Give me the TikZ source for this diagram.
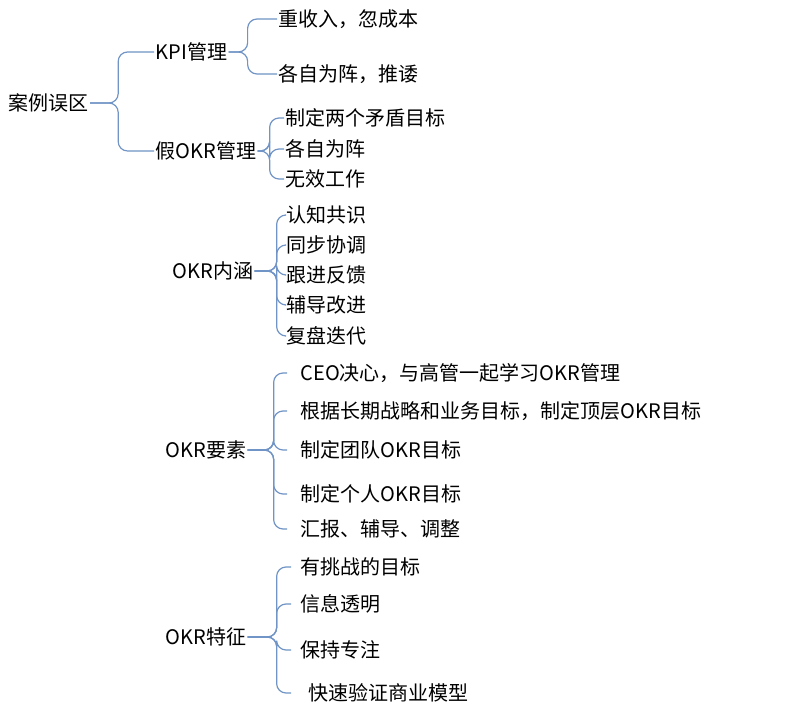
\documentclass[tikz,border=0pt]{standalone}
\usepackage{fontspec}
\setmainfont{Noto Sans CJK SC}
\definecolor{brc}{RGB}{112,148,198}
\begin{document}
\begin{tikzpicture}[x=0.75pt,y=-0.75pt,
  lbl/.style={anchor=west,inner sep=1pt,font=\fontsize{15}{17}\selectfont},
  br/.style={draw=brc,line width=0.9pt,rounded corners=7pt}]
\useasboundingbox (0,0) rectangle (795,712);
\fill[white] (0,0) rectangle (795,712);
\node[lbl] (root) at (7,103) {案例误区};
\node[lbl] (kpi) at (154,52) {KPI管理};
\node[lbl] (fake) at (154,151) {假OKR管理};
\node[lbl] (k1) at (277,19) {重收入，忽成本};
\node[lbl] (k2) at (277,74) {各自为阵，推诿};
\node[lbl] (f1) at (284,118) {制定两个矛盾目标};
\node[lbl] (f2) at (284,149) {各自为阵};
\node[lbl] (f3) at (284,179) {无效工作};
\node[lbl] (nh) at (171,271) {OKR内涵};
\node[lbl] (n1) at (285,215) {认知共识};
\node[lbl] (n2) at (285,245) {同步协调};
\node[lbl] (n3) at (285,275) {跟进反馈};
\node[lbl] (n4) at (285,305) {辅导改进};
\node[lbl] (n5) at (285,336) {复盘迭代};
\node[lbl] (ys) at (164,450) {OKR要素};
\node[lbl] (y1) at (299,373) {CEO决心，与高管一起学习OKR管理};
\node[lbl] (y2) at (299,411) {根据长期战略和业务目标，制定顶层OKR目标};
\node[lbl] (y3) at (299,450) {制定团队OKR目标};
\node[lbl] (y4) at (299,494) {制定个人OKR目标};
\node[lbl] (y5) at (299,529) {汇报、辅导、调整};
\node[lbl] (tz) at (164,637) {OKR特征};
\node[lbl] (t1) at (299,567) {有挑战的目标};
\node[lbl] (t2) at (299,604) {信息透明};
\node[lbl] (t3) at (299,650) {保持专注};
\node[lbl] (t4) at (307,693) {快速验证商业模型};
% brackets
\foreach \c in {kpi,fake}
  \draw[br] (root.east) -- ++(28,0) |- (\c.west);
\foreach \c in {k1,k2}
  \draw[br] (kpi.east) -- ++(19,0) |- (\c.west);
\foreach \c in {f1,f2,f3}
  \draw[br] (fake.east) -- ++(12,0) |- (\c.west);
\foreach \c in {n1,n2,n3,n4,n5}
  \draw[br] (nh.east) -- ++(22,0) |- (\c.west);
\foreach \c in {y1,y2,y3,y4,y5}
  \draw[br] (ys.east) -- ++(26,0) |- ([xshift=-9pt]\c.west);
\foreach \c in {t1,t2,t3,t4}
  \draw[br] (tz.east) -- ++(29,0) |- ([xshift=-6pt]t1.west |- \c.west);
\end{tikzpicture}
\end{document}
